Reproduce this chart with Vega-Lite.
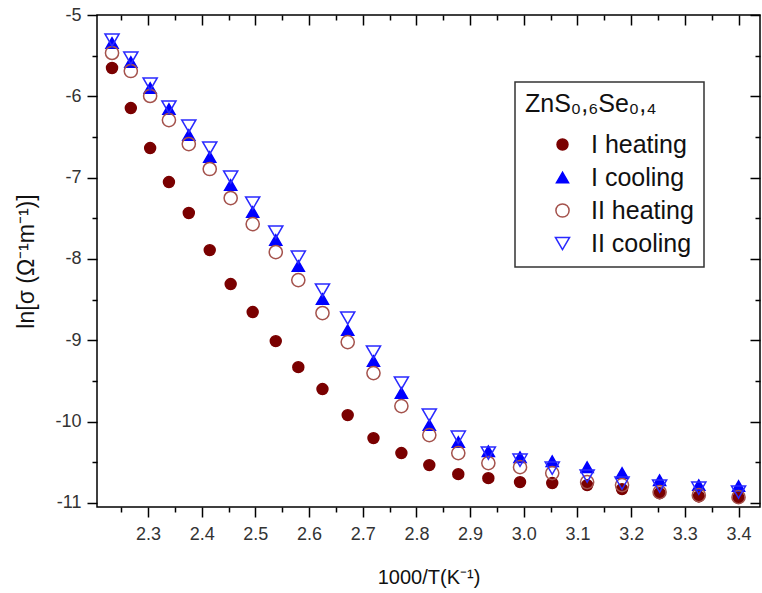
{
  "$schema": "https://vega.github.io/schema/vega-lite/v6.json",
  "width": 663,
  "height": 492,
  "autosize": {"type": "none"},
  "padding": {"left": 97, "top": 15, "right": 2, "bottom": 86},
  "background": "white",
  "config": {
    "view": {"stroke": "black", "strokeWidth": 1.5},
    "font": "Liberation Sans",
    "axis": {
      "labelFont": "Liberation Sans",
      "labelFontSize": 18,
      "labelColor": "#333333",
      "titleFont": "Liberation Sans",
      "titleFontSize": 22,
      "titleFontWeight": "normal",
      "titleColor": "#111111",
      "tickColor": "black",
      "tickWidth": 1.5,
      "domain": false,
      "grid": false
    },
    "legend": {
      "orient": "none",
      "legendX": 418,
      "legendY": 67,
      "strokeColor": "#333333",
      "strokeWidth": 1.5,
      "fillColor": "white",
      "padding": 10,
      "titleFont": "Liberation Sans",
      "titleFontSize": 25,
      "titleFontWeight": "normal",
      "titleColor": "#111111",
      "titlePadding": 15,
      "titleLimit": 400,
      "labelFont": "Liberation Sans",
      "labelFontSize": 25,
      "labelColor": "#111111",
      "labelOffset": 16,
      "labelLimit": 400,
      "rowPadding": 7,
      "symbolOffset": 25,
      "symbolStrokeWidth": 1.5
    }
  },
  "data": {
    "values": [
      {"series": "I heating", "x": 2.233, "y": -5.652},
      {"series": "I heating", "x": 2.268, "y": -6.144},
      {"series": "I heating", "x": 2.304, "y": -6.636},
      {"series": "I heating", "x": 2.339, "y": -7.054},
      {"series": "I heating", "x": 2.376, "y": -7.435},
      {"series": "I heating", "x": 2.415, "y": -7.891},
      {"series": "I heating", "x": 2.454, "y": -8.309},
      {"series": "I heating", "x": 2.495, "y": -8.653},
      {"series": "I heating", "x": 2.538, "y": -9.010},
      {"series": "I heating", "x": 2.580, "y": -9.330},
      {"series": "I heating", "x": 2.625, "y": -9.600},
      {"series": "I heating", "x": 2.672, "y": -9.920},
      {"series": "I heating", "x": 2.720, "y": -10.203},
      {"series": "I heating", "x": 2.772, "y": -10.387},
      {"series": "I heating", "x": 2.824, "y": -10.535},
      {"series": "I heating", "x": 2.878, "y": -10.646},
      {"series": "I heating", "x": 2.934, "y": -10.695},
      {"series": "I heating", "x": 2.993, "y": -10.744},
      {"series": "I heating", "x": 3.053, "y": -10.756},
      {"series": "I heating", "x": 3.118, "y": -10.781},
      {"series": "I heating", "x": 3.183, "y": -10.830},
      {"series": "I heating", "x": 3.253, "y": -10.880},
      {"series": "I heating", "x": 3.326, "y": -10.920},
      {"series": "I heating", "x": 3.400, "y": -10.935},
      {"series": "I cooling", "x": 2.233, "y": -5.344},
      {"series": "I cooling", "x": 2.268, "y": -5.578},
      {"series": "I cooling", "x": 2.304, "y": -5.898},
      {"series": "I cooling", "x": 2.339, "y": -6.156},
      {"series": "I cooling", "x": 2.376, "y": -6.476},
      {"series": "I cooling", "x": 2.415, "y": -6.747},
      {"series": "I cooling", "x": 2.454, "y": -7.091},
      {"series": "I cooling", "x": 2.495, "y": -7.423},
      {"series": "I cooling", "x": 2.538, "y": -7.768},
      {"series": "I cooling", "x": 2.580, "y": -8.087},
      {"series": "I cooling", "x": 2.625, "y": -8.493},
      {"series": "I cooling", "x": 2.672, "y": -8.875},
      {"series": "I cooling", "x": 2.720, "y": -9.256},
      {"series": "I cooling", "x": 2.772, "y": -9.649},
      {"series": "I cooling", "x": 2.824, "y": -10.043},
      {"series": "I cooling", "x": 2.878, "y": -10.252},
      {"series": "I cooling", "x": 2.934, "y": -10.363},
      {"series": "I cooling", "x": 2.993, "y": -10.437},
      {"series": "I cooling", "x": 3.053, "y": -10.486},
      {"series": "I cooling", "x": 3.118, "y": -10.560},
      {"series": "I cooling", "x": 3.183, "y": -10.633},
      {"series": "I cooling", "x": 3.253, "y": -10.720},
      {"series": "I cooling", "x": 3.326, "y": -10.781},
      {"series": "I cooling", "x": 3.400, "y": -10.793},
      {"series": "II heating", "x": 2.233, "y": -5.467},
      {"series": "II heating", "x": 2.268, "y": -5.689},
      {"series": "II heating", "x": 2.304, "y": -5.996},
      {"series": "II heating", "x": 2.339, "y": -6.292},
      {"series": "II heating", "x": 2.376, "y": -6.587},
      {"series": "II heating", "x": 2.415, "y": -6.894},
      {"series": "II heating", "x": 2.454, "y": -7.251},
      {"series": "II heating", "x": 2.495, "y": -7.571},
      {"series": "II heating", "x": 2.538, "y": -7.915},
      {"series": "II heating", "x": 2.580, "y": -8.260},
      {"series": "II heating", "x": 2.625, "y": -8.665},
      {"series": "II heating", "x": 2.672, "y": -9.022},
      {"series": "II heating", "x": 2.720, "y": -9.403},
      {"series": "II heating", "x": 2.772, "y": -9.809},
      {"series": "II heating", "x": 2.824, "y": -10.166},
      {"series": "II heating", "x": 2.878, "y": -10.387},
      {"series": "II heating", "x": 2.934, "y": -10.510},
      {"series": "II heating", "x": 2.993, "y": -10.560},
      {"series": "II heating", "x": 3.053, "y": -10.633},
      {"series": "II heating", "x": 3.118, "y": -10.744},
      {"series": "II heating", "x": 3.183, "y": -10.781},
      {"series": "II heating", "x": 3.253, "y": -10.867},
      {"series": "II heating", "x": 3.326, "y": -10.904},
      {"series": "II heating", "x": 3.400, "y": -10.929},
      {"series": "II cooling", "x": 2.233, "y": -5.308},
      {"series": "II cooling", "x": 2.268, "y": -5.529},
      {"series": "II cooling", "x": 2.304, "y": -5.849},
      {"series": "II cooling", "x": 2.339, "y": -6.132},
      {"series": "II cooling", "x": 2.376, "y": -6.365},
      {"series": "II cooling", "x": 2.415, "y": -6.636},
      {"series": "II cooling", "x": 2.454, "y": -6.993},
      {"series": "II cooling", "x": 2.495, "y": -7.312},
      {"series": "II cooling", "x": 2.538, "y": -7.669},
      {"series": "II cooling", "x": 2.580, "y": -7.977},
      {"series": "II cooling", "x": 2.625, "y": -8.383},
      {"series": "II cooling", "x": 2.672, "y": -8.727},
      {"series": "II cooling", "x": 2.720, "y": -9.145},
      {"series": "II cooling", "x": 2.772, "y": -9.526},
      {"series": "II cooling", "x": 2.824, "y": -9.920},
      {"series": "II cooling", "x": 2.878, "y": -10.191},
      {"series": "II cooling", "x": 2.934, "y": -10.387},
      {"series": "II cooling", "x": 2.993, "y": -10.474},
      {"series": "II cooling", "x": 3.053, "y": -10.572},
      {"series": "II cooling", "x": 3.118, "y": -10.670},
      {"series": "II cooling", "x": 3.183, "y": -10.757},
      {"series": "II cooling", "x": 3.253, "y": -10.793},
      {"series": "II cooling", "x": 3.326, "y": -10.818},
      {"series": "II cooling", "x": 3.400, "y": -10.867}
    ]
  },
  "resolve": {"axis": {"x": "independent", "y": "independent"}},
  "layer": [
    {
      "mark": {"type": "point", "opacity": 1, "strokeWidth": 1.5},
      "encoding": {
        "x": {
          "field": "x", "type": "quantitative",
          "scale": {"domain": [2.205, 3.44], "nice": false, "zero": false},
          "axis": {"orient": "bottom", "values": [2.3, 2.4, 2.5, 2.6, 2.7, 2.8, 2.9, 3.0, 3.1, 3.2, 3.3, 3.4], "format": ".1f", "tickSize": 10, "labelPadding": 8, "title": "1000/T(K⁻¹)", "titleFontSize": 20, "titlePadding": 24}
        },
        "y": {
          "field": "y", "type": "quantitative",
          "scale": {"domain": [-11.05, -5], "nice": false, "zero": false},
          "axis": {"orient": "left", "values": [-5, -6, -7, -8, -9, -10, -11], "labelExpr": "'' + datum.value", "tickSize": 10, "labelPadding": 6, "title": "ln[σ (Ω⁻¹m⁻¹)]", "titleFontSize": 23, "titlePadding": 16}
        },
        "shape": {
          "field": "series", "type": "nominal",
          "scale": {"domain": ["I heating", "I cooling", "II heating", "II cooling"], "range": ["circle", "triangle-up", "circle", "triangle-down"]},
          "legend": {"title": "\u00a0\u00a0\u00a0ZnS₀,₆Se₀,₄"}
        },
        "stroke": {
          "field": "series", "type": "nominal",
          "scale": {"domain": ["I heating", "I cooling", "II heating", "II cooling"], "range": ["#7a0000", "#0000ff", "#a4524c", "#2a2aff"]},
          "legend": {"title": "\u00a0\u00a0\u00a0ZnS₀,₆Se₀,₄"}
        },
        "fill": {
          "field": "series", "type": "nominal",
          "scale": {"domain": ["I heating", "I cooling", "II heating", "II cooling"], "range": ["#7a0000", "#0000ff", "transparent", "transparent"]},
          "legend": {"title": "\u00a0\u00a0\u00a0ZnS₀,₆Se₀,₄"}
        },
        "size": {
          "field": "series", "type": "nominal",
          "scale": {"domain": ["I heating", "I cooling", "II heating", "II cooling"], "range": [120, 200, 110, 200]},
          "legend": {"title": "\u00a0\u00a0\u00a0ZnS₀,₆Se₀,₄"}
        }
      }
    },
    {
      "mark": {"type": "point", "opacity": 0},
      "encoding": {
        "x": {"field": "x", "type": "quantitative", "axis": {"orient": "bottom", "values": [2.25, 2.35, 2.45, 2.55, 2.65, 2.75, 2.85, 2.95, 3.05, 3.15, 3.25, 3.35], "tickSize": 5, "labels": false, "title": null}},
        "y": {"field": "y", "type": "quantitative", "axis": {"orient": "left", "values": [-5.5, -6.5, -7.5, -8.5, -9.5, -10.5], "tickSize": 5, "labels": false, "title": null}}
      }
    },
    {
      "mark": {"type": "point", "opacity": 0},
      "encoding": {
        "x": {"field": "x", "type": "quantitative", "axis": {"orient": "top", "values": [2.3, 2.4, 2.5, 2.6, 2.7, 2.8, 2.9, 3.0, 3.1, 3.2, 3.3, 3.4], "tickSize": -10, "labels": false, "title": null}},
        "y": {"field": "y", "type": "quantitative", "axis": {"orient": "right", "values": [-5, -6, -7, -8, -9, -10, -11], "tickSize": -10, "labels": false, "title": null}}
      }
    },
    {
      "mark": {"type": "point", "opacity": 0},
      "encoding": {
        "x": {"field": "x", "type": "quantitative", "axis": {"orient": "top", "values": [2.25, 2.35, 2.45, 2.55, 2.65, 2.75, 2.85, 2.95, 3.05, 3.15, 3.25, 3.35], "tickSize": -5, "labels": false, "title": null}},
        "y": {"field": "y", "type": "quantitative", "axis": {"orient": "right", "values": [-5.5, -6.5, -7.5, -8.5, -9.5, -10.5], "tickSize": -5, "labels": false, "title": null}}
      }
    }
  ]
}
